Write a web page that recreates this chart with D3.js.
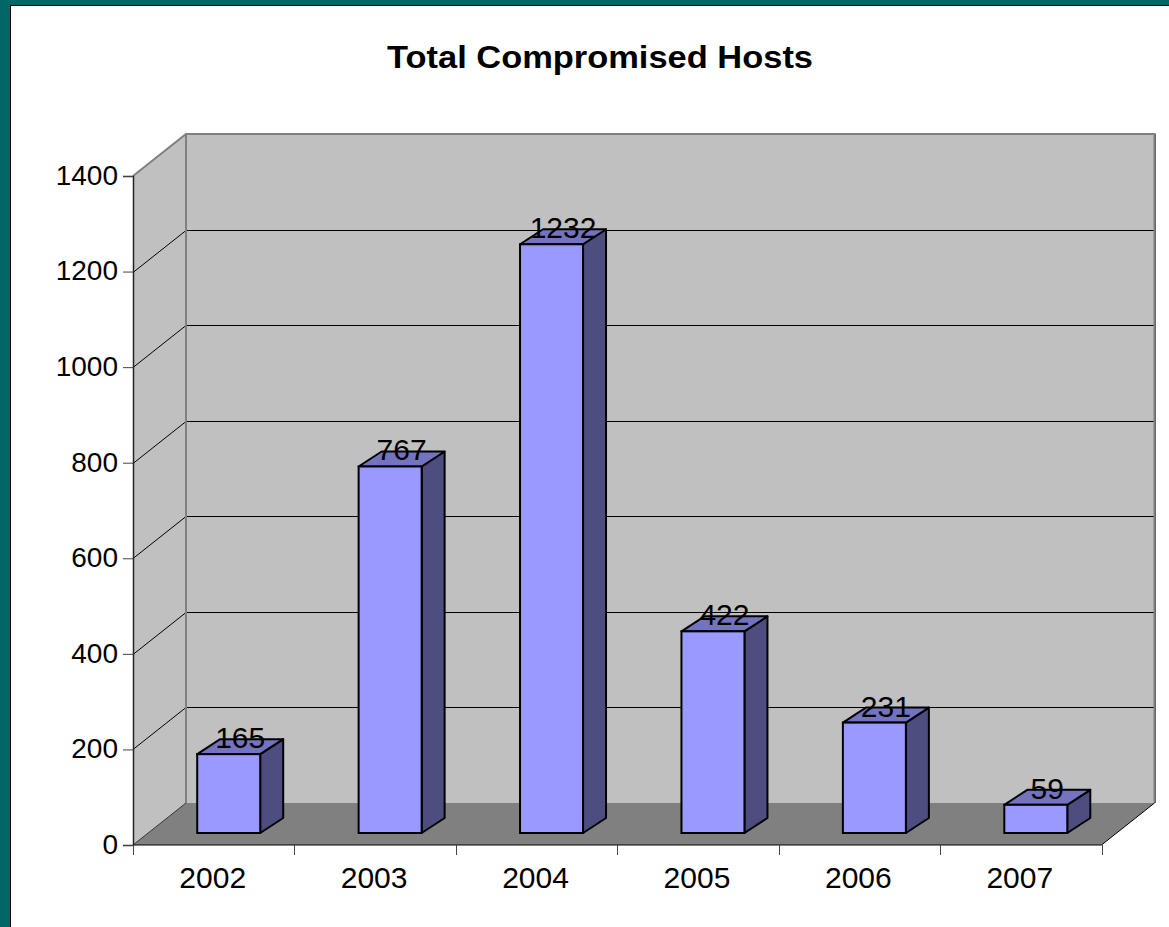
<!DOCTYPE html>
<html>
<head>
<meta charset="utf-8">
<script src="https://cdn.jsdelivr.net/npm/d3@7"></script>
<style>
  body { margin: 0; background: #fff; }
  svg { display: block; font-family: Arial, "Liberation Sans", sans-serif; }
</style>
</head>
<body>
<svg id="chart" width="1169" height="927"></svg>
<script>
// chart data
var years = ['2002', '2003', '2004', '2005', '2006', '2007'];
var hosts = [165, 767, 1232, 422, 231, 59];
var yTicks = [0, 200, 400, 600, 800, 1000, 1200, 1400];
var title = 'Total Compromised Hosts';

var svg = d3.select('#chart');

// slide frame (teal strip on left and top)
svg.append('rect').attr('x', 0).attr('y', 0).attr('width', 1169).attr('height', 6).attr('fill', '#006666');
svg.append('rect').attr('x', 0).attr('y', 0).attr('width', 10).attr('height', 927).attr('fill', '#006666');
svg.append('line').attr('x1', 10.5).attr('x2', 10.5).attr('y1', 5.5).attr('y2', 927).attr('stroke', '#000');
svg.append('line').attr('x1', 10.5).attr('x2', 1169).attr('y1', 5.5).attr('y2', 5.5).attr('stroke', '#000');

// front plane scales
var x = d3.scaleBand().domain(years).range([133, 1101.5]).paddingInner(0).paddingOuter(0);
var y = d3.scaleLinear().domain([0, 1400]).range([845, 176]);
// depth of the walls
var depthX = 53, depthY = -42;
// bars sit part way into the floor
var barShiftX = 15, barBase = 833;
var yBar = d3.scaleLinear().domain([0, 1400]).range([barBase, barBase - (845 - 176)]);
var barW = 63, barDX = 23, barDY = -15;

var x0 = x.range()[0], x1 = x.range()[1];
var bx0 = x0 + depthX, bx1 = x1 + depthX;

// side wall
svg.append('polygon')
  .attr('points', [[x0, y(1400)], [bx0, y(1400) + depthY], [bx0, y(0) + depthY], [x0, y(0)]].join(' '))
  .attr('fill', '#c0c0c0');
// back wall
svg.append('rect')
  .attr('x', bx0).attr('y', y(1400) + depthY)
  .attr('width', bx1 - bx0).attr('height', y(0) - y(1400))
  .attr('fill', '#c0c0c0');
// floor
svg.append('polygon')
  .attr('points', [[x0, y(0)], [bx0, y(0) + depthY], [bx1, y(0) + depthY], [x1, y(0)]].join(' '))
  .attr('fill', '#808080');

// gridlines on back and side wall
var grid = svg.append('g');
yTicks.filter(function(d) { return d > 0 && d < 1400; }).forEach(function(v) {
  var yy = Math.round(y(v)) + 0.5, yb = Math.round(y(v) + depthY) + 0.5;
  grid.append('line').attr('x1', x0).attr('y1', yy).attr('x2', bx0).attr('y2', yb)
    .attr('stroke', '#000').attr('stroke-width', 1);
  grid.append('line').attr('x1', bx0).attr('y1', yb).attr('x2', bx1).attr('y2', yb)
    .attr('stroke', '#000').attr('stroke-width', 1);
});

// wall outlines
var ytop = y(1400) + depthY;
svg.append('path')
  .attr('d', 'M' + x0 + ',' + y(1400) + 'L' + bx0 + ',' + ytop + 'L' + bx1 + ',' + ytop + 'L' + bx1 + ',' + (y(0) + depthY))
  .attr('fill', 'none').attr('stroke', '#808080').attr('stroke-width', 2);
svg.append('line').attr('x1', bx0).attr('x2', bx0).attr('y1', ytop).attr('y2', y(0) + depthY)
  .attr('stroke', '#808080').attr('stroke-width', 2);
svg.append('line').attr('x1', bx1 + 1).attr('x2', bx1 + 1).attr('y1', ytop).attr('y2', y(0) + depthY)
  .attr('stroke', '#6a6a6a').attr('stroke-width', 1);
// floor outline
svg.append('path')
  .attr('d', 'M' + x0 + ',' + y(0) + 'L' + x1 + ',' + y(0) + 'L' + bx1 + ',' + (y(0) + depthY))
  .attr('fill', 'none').attr('stroke', '#000').attr('stroke-width', 1);
svg.append('line').attr('x1', x0).attr('y1', y(0)).attr('x2', bx0).attr('y2', y(0) + depthY)
  .attr('stroke', '#333').attr('stroke-width', 1);

// bars
var bars = svg.append('g').selectAll('g.bar')
  .data(years.map(function(d, i) { return {year: d, value: hosts[i]}; }))
  .join('g').attr('class', 'bar');

function fx(d) { return x(d.year) + x.bandwidth() / 2 + barShiftX - barW / 2; }

bars.append('polygon') // side face
  .attr('points', function(d) {
    var l = fx(d) + barW, t = yBar(d.value);
    return [[l, barBase], [l, t], [l + barDX, t + barDY], [l + barDX, barBase + barDY]].join(' ');
  })
  .attr('fill', '#4d4d80').attr('stroke', '#000').attr('stroke-width', 2).attr('stroke-linejoin', 'round');
bars.append('polygon') // top face
  .attr('points', function(d) {
    var l = fx(d), t = yBar(d.value);
    return [[l, t], [l + barDX, t + barDY], [l + barW + barDX, t + barDY], [l + barW, t]].join(' ');
  })
  .attr('fill', '#7373bf').attr('stroke', '#000').attr('stroke-width', 2).attr('stroke-linejoin', 'round');
bars.append('rect') // front face
  .attr('x', fx)
  .attr('y', function(d) { return yBar(d.value); })
  .attr('width', barW)
  .attr('height', function(d) { return barBase - yBar(d.value); })
  .attr('fill', '#9999ff').attr('stroke', '#000').attr('stroke-width', 2);

// data labels
svg.append('g').selectAll('text')
  .data(years.map(function(d, i) { return {year: d, value: hosts[i]}; }))
  .join('text')
  .attr('x', function(d) { return fx(d) + barW / 2 + barDX / 2; })
  .attr('y', function(d) { return yBar(d.value) + barDY / 2 + 1.5; })
  .attr('text-anchor', 'middle')
  .attr('font-size', 30)
  .attr('fill', '#000')
  .text(function(d) { return d.value; });

// y axis
var yAxis = svg.append('g')
  .attr('transform', 'translate(' + x0 + ',0)')
  .call(d3.axisLeft(y).tickValues(yTicks).tickSize(10).tickPadding(5).tickFormat(d3.format('d')));
yAxis.select('.domain').attr('stroke', '#222').attr('stroke-width', 1.5);
yAxis.selectAll('.tick line').attr('stroke', '#444');
yAxis.selectAll('.tick text').attr('font-size', 28).attr('font-family', 'Arial, "Liberation Sans", sans-serif')
  .attr('fill', '#000').attr('dy', '0.3em');

// x axis: labels at band centers, tick marks at band edges
var xAxis = svg.append('g')
  .attr('transform', 'translate(0,' + y(0) + ')')
  .call(d3.axisBottom(x).tickSize(0).tickPadding(22));
xAxis.select('.domain').remove();
xAxis.selectAll('.tick text').attr('font-size', 30).attr('font-family', 'Arial, "Liberation Sans", sans-serif')
  .attr('fill', '#000').attr('dx', -1);
var edges = years.map(function(d) { return x(d); }).concat([x1]);
svg.append('g').selectAll('line').data(edges).join('line')
  .attr('x1', function(d) { return Math.round(d) + 0.5; }).attr('x2', function(d) { return Math.round(d) + 0.5; })
  .attr('y1', y(0)).attr('y2', y(0) + 10)
  .attr('stroke', '#444');

// title
svg.append('text')
  .attr('x', 600).attr('y', 68)
  .attr('text-anchor', 'middle')
  .attr('font-size', 32).attr('font-weight', 'bold')
  .attr('textLength', 426).attr('lengthAdjust', 'spacingAndGlyphs')
  .text(title);
</script>
</body>
</html>
